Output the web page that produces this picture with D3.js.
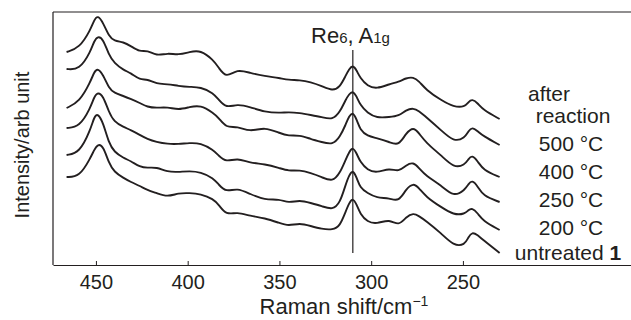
<!DOCTYPE html>
<html>
<head>
<meta charset="utf-8">
<script src="https://cdn.jsdelivr.net/npm/d3@7/dist/d3.min.js"></script>
<style>
  html, body { margin: 0; padding: 0; background: #fff; }
  svg { display: block; }
  text { font-family: Arial, "Liberation Sans", Helvetica, sans-serif; fill: #231f20; }
</style>
</head>
<body>
<svg id="chart" width="631" height="320"></svg>
<script>
// Raman shift grid (cm^-1)
const wavenumber = [466,459,453,451,449,446,443,440,435,431,426,422,417,411,405,399,393,386,383,379,373,366,358,350,345,339,333,327,321,317,314,312,310,308,306,302,297,290,285,281,277,274,270,262,255,249,247,245,242,239,230];

// Intensities (arb. units, stacked as plotted)
const afterReaction = [213,217,235,245,250,242,229,224,223,219,213,215,209,212,210,213,215,205,197,187,196,192,189,187,185,185,183,179,174,178,189,196,200,195,187,179,176,181,183,187,188,184,175,165,158,158,163,166,162,155,146];
const t500 = [196,195,213,224,229,226,210,202,195,192,185,186,181,181,179,178,178,172,165,157,161,158,153,152,153,152,150,148,145,153,165,171,174,169,160,152,147,148,149,155,157,154,148,135,123,127,134,138,134,129,120];
const t400 = [157,163,183,193,197,190,177,172,169,166,162,158,157,158,155,158,160,152,147,137,139,133,138,132,129,130,126,123,120,128,140,149,153,146,135,129,127,123,119,132,138,132,122,110,97,100,106,110,104,95,88];
const t250 = [137,138,157,168,173,169,153,143,138,135,130,126,123,121,121,122,122,115,109,103,107,102,101,97,94,95,92,88,83,92,105,113,118,112,103,95,92,97,93,100,103,97,89,80,68,75,81,85,79,69,63];
const t200 = [110,112,135,148,152,142,122,113,107,104,98,97,98,93,93,94,93,87,80,73,77,71,65,66,62,65,62,59,55,62,80,90,95,88,77,72,67,67,63,76,82,77,68,58,50,51,55,57,52,44,35];
const untreated = [88,88,107,115,121,119,102,93,87,83,79,75,72,68,72,72,71,66,60,50,53,49,47,42,39,42,39,36,35,39,53,62,67,61,51,43,41,46,39,48,52,49,44,32,19,20,28,33,30,25,12];

const seriesList = [afterReaction, t500, t400, t250, t200, untreated];
const xTicks = [450, 400, 350, 300, 250];

// Annotation: Re6 A1g band position and its marker extent (intensity units)
const bandPosition = 310;
const bandExtent = [12, 215];

const svg = d3.select("#chart");
const margin = {left: 53, top: 12, bottom: 265, right: 631};

const x = d3.scaleLinear().domain([473.4, 158.4]).range([margin.left, margin.right]);
const y = d3.scaleLinear().domain([0, 253]).range([margin.bottom, margin.top]);

const ink = "#231f20";

// Frame: top and left lines
svg.append("line").attr("x1", margin.left).attr("x2", margin.right)
  .attr("y1", margin.top).attr("y2", margin.top)
  .attr("stroke", ink).attr("stroke-width", 1.2);
svg.append("line").attr("x1", margin.left).attr("x2", margin.left)
  .attr("y1", margin.top).attr("y2", margin.bottom)
  .attr("stroke", ink).attr("stroke-width", 1.2);

// Bottom axis
const xAxis = d3.axisBottom(x).tickValues(xTicks).tickSize(-4).tickSizeOuter(0).tickPadding(10);
const gx = svg.append("g").attr("transform", `translate(0,${margin.bottom})`).call(xAxis);
gx.select(".domain").attr("stroke", ink).attr("stroke-width", 1.2);
gx.selectAll(".tick line").attr("stroke", ink).attr("stroke-width", 1);
gx.selectAll(".tick text").attr("font-size", 20).style("fill", ink)
  .attr("font-family", "Arial, 'Liberation Sans', sans-serif");

// Spectra
const line = d3.line()
  .x((d, i) => x(wavenumber[i]))
  .y(d => y(d))
  .curve(d3.curveBasis);

svg.append("g").selectAll("path").data(seriesList).join("path")
  .attr("d", d => line(d))
  .attr("fill", "none")
  .attr("stroke", ink)
  .attr("stroke-width", 1.9)
  .attr("stroke-linejoin", "round");

// Band marker line
svg.append("line")
  .attr("x1", x(bandPosition)).attr("x2", x(bandPosition))
  .attr("y1", y(bandExtent[1])).attr("y2", y(bandExtent[0]))
  .attr("stroke", ink).attr("stroke-width", 1.2);

// Band label Re6, A1g
const bl = svg.append("text").attr("x", 311).attr("y", 43).attr("font-size", 22);
bl.append("tspan").text("Re");
bl.append("tspan").attr("font-size", 15).text("6");
bl.append("tspan").text(", A");
bl.append("tspan").attr("font-size", 15).text("1g");

// Right-side series labels
const rightLabels = [
  {text: "after", x: 528, y: 101, anchor: "start"},
  {text: "reaction", x: 573, y: 123, anchor: "middle"},
  {text: "500 °C", x: 571, y: 151, anchor: "middle"},
  {text: "400 °C", x: 571, y: 179, anchor: "middle"},
  {text: "250 °C", x: 571, y: 207, anchor: "middle"},
  {text: "200 °C", x: 571, y: 235, anchor: "middle"}
];
svg.append("g").selectAll("text").data(rightLabels).join("text")
  .attr("x", d => d.x).attr("y", d => d.y)
  .attr("text-anchor", d => d.anchor)
  .attr("font-size", 21)
  .text(d => d.text);

const ut = svg.append("text").attr("x", 568).attr("y", 260).attr("text-anchor", "middle").attr("font-size", 21);
ut.append("tspan").text("untreated ");
ut.append("tspan").attr("font-weight", "bold").text("1");

// Axis titles
svg.append("text")
  .attr("transform", "translate(29,145) rotate(-90)")
  .attr("text-anchor", "middle")
  .attr("font-size", 20)
  .text("Intensity/arb unit");

const xt = svg.append("text").attr("x", 344).attr("y", 314).attr("text-anchor", "middle").attr("font-size", 22);
xt.append("tspan").text("Raman shift/cm");
xt.append("tspan").attr("font-size", 14).attr("dy", -8).text("−1");
</script>
</body>
</html>
